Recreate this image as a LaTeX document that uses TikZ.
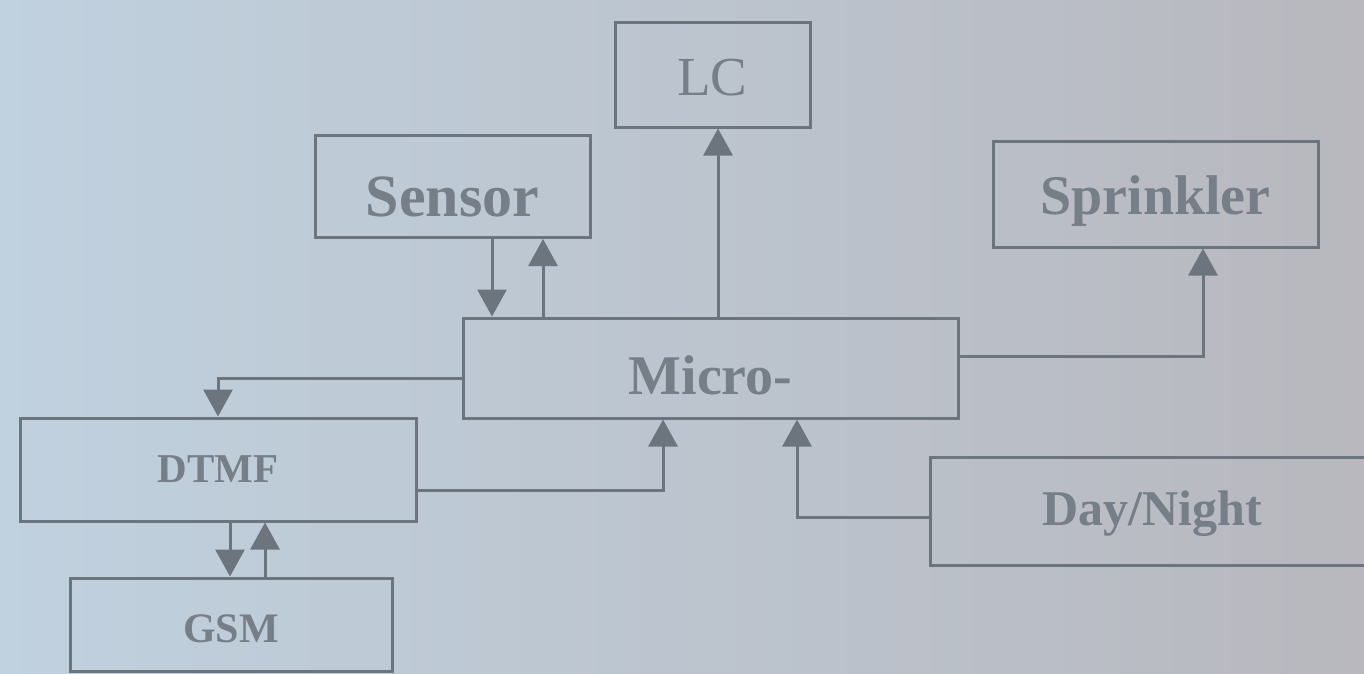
\documentclass[tikz,border=0pt]{standalone}
\usepackage{fontspec}
\setmainfont{Liberation Serif}
\usetikzlibrary{arrows.meta}
\definecolor{bgl}{RGB}{192,209,223}
\definecolor{bgr}{RGB}{184,184,190}
\definecolor{ln}{RGB}{108,116,126}
\definecolor{tx}{RGB}{118,126,136}
\tikzset{
  blk/.style={draw=ln, line width=3pt, rectangle, inner sep=0pt, text=tx},
  conn/.style={draw=ln, line width=3pt, -{Triangle[length=27pt,width=29pt]}},
}
\newcommand{\dn}[2]{\raisebox{-#1pt}[\height][\depth]{#2}}
\begin{document}
\begin{tikzpicture}[x=1pt,y=-1pt]
\useasboundingbox (0,0) rectangle (1364,673);
\clip (0,0) rectangle (1364,673);
\shade[left color=bgl, right color=bgr] (0,0) rectangle (1364,673);
% boxes
\node[blk, minimum width=195pt, minimum height=105pt, font=\fontsize{55}{60}\selectfont] (lc) at (712.5,74.5) {\dn{3}{LC}};
\node[blk, minimum width=275pt, minimum height=102pt, font=\fontsize{60}{66}\selectfont\bfseries] (sensor) at (452.5,186.5) {\dn{10}{Sensor}};
\node[blk, minimum width=325pt, minimum height=106pt, font=\fontsize{56}{62}\selectfont\bfseries] (sprinkler) at (1155.5,194) {\dn{7}{Sprinkler}};
\node[blk, minimum width=495pt, minimum height=100pt, font=\fontsize{56}{62}\selectfont\bfseries] (micro) at (710.5,368) {\dn{7}{Micro-}};
\node[blk, minimum width=396pt, minimum height=103pt, font=\fontsize{41}{46}\selectfont\bfseries] (dtmf) at (218,469.5) {\dn{0}{DTMF}};
\node[blk, minimum width=322pt, minimum height=93pt, font=\fontsize{42}{47}\selectfont\bfseries] (gsm) at (231,624.5) {\dn{4}{GSM}};
\node[blk, minimum width=445pt, minimum height=108pt, font=\fontsize{50}{56}\selectfont\bfseries] (day) at (1152.5,511) {\dn{3}{Day/Night}};
% helper coordinates
\coordinate (xs1) at (492,0);
\coordinate (xs2) at (543,0);
\coordinate (xlc) at (718,0);
\coordinate (xsp) at (1203,0);
\coordinate (xdt) at (218,0);
\coordinate (xmd) at (663,0);
\coordinate (xmn) at (797,0);
\coordinate (xg1) at (230,0);
\coordinate (xg2) at (265,0);
\coordinate (ymsp) at (0,356);
\coordinate (ymdt) at (0,378);
\coordinate (ydtm) at (0,490);
\coordinate (ydn) at (0,517);
% connectors
\draw[conn] (xs1 |- sensor.south) -- (xs1 |- micro.north);
\draw[conn] (xs2 |- micro.north) -- (xs2 |- sensor.south);
\draw[conn] (xlc |- micro.north) -- (xlc |- lc.south);
\draw[conn] (micro.east |- ymsp) -- (xsp |- ymsp) -- (xsp |- sprinkler.south);
\draw[conn] (micro.west |- ymdt) -- (xdt |- ymdt) -- (xdt |- dtmf.north);
\draw[conn] (dtmf.east |- ydtm) -- (xmd |- ydtm) -- (xmd |- micro.south);
\draw[conn] (day.west |- ydn) -- (xmn |- ydn) -- (xmn |- micro.south);
\draw[conn] (xg1 |- dtmf.south) -- (xg1 |- gsm.north);
\draw[conn] (xg2 |- gsm.north) -- (xg2 |- dtmf.south);
\end{tikzpicture}
\end{document}
